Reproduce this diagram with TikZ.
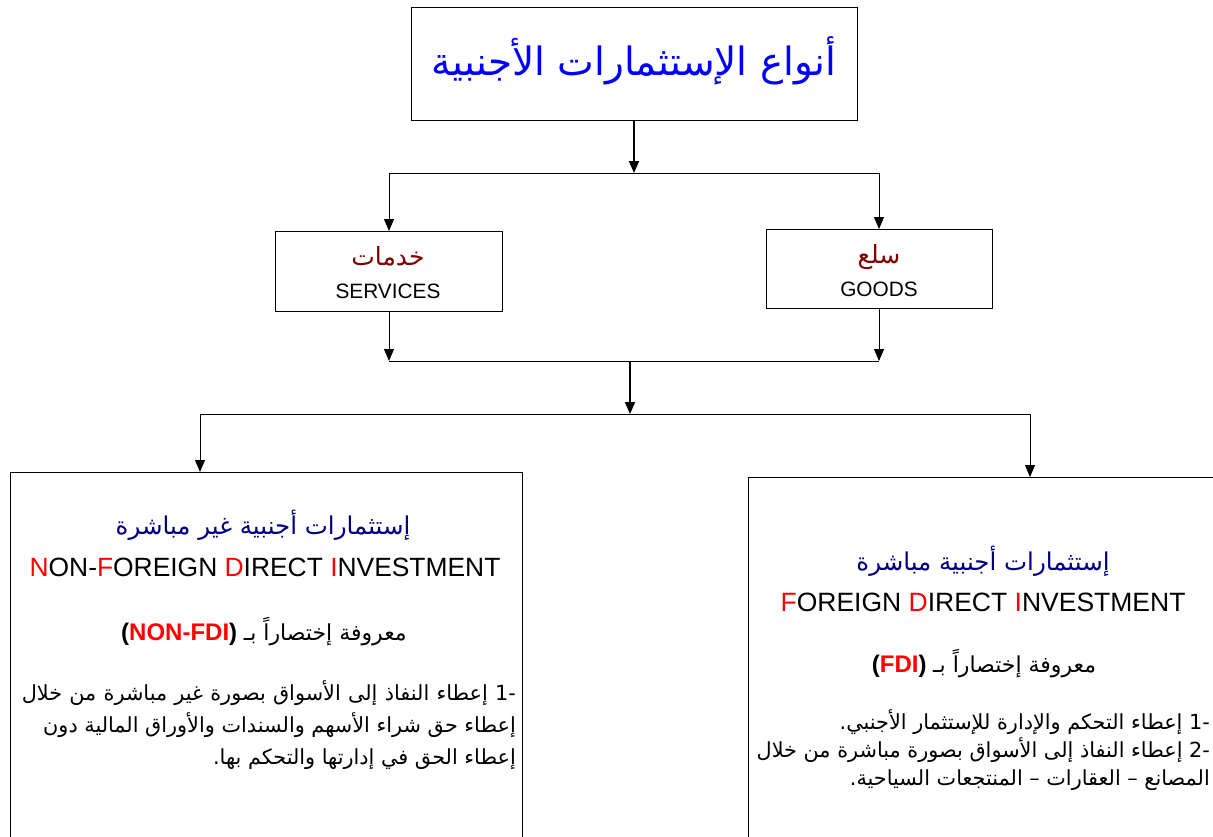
\documentclass[tikz,border=0pt]{standalone}
\usepackage{fontspec}
\setmainfont{Liberation Sans}
\newfontfamily\arfont[Script=Arabic]{DejaVu Sans}
\TeXXeTstate=1
\usetikzlibrary{arrows.meta}
\definecolor{navyc}{RGB}{0,0,128}
\definecolor{dredc}{RGB}{128,0,0}
\definecolor{redc}{RGB}{255,0,0}
\definecolor{bluec}{RGB}{0,0,255}
\newcommand{\fs}[1]{\fontsize{#1}{#1}\selectfont}
\begin{document}
\begin{tikzpicture}[x=1pt,y=-1pt,
  box/.style={draw, line width=1pt, inner sep=0pt, anchor=north west},
  conn/.style={line width=1pt},
  arr/.style={line width=1pt, -{Triangle[width=10pt,length=12pt]}},
  tarr/.style={line width=2pt, -{Triangle[width=10pt,length=12pt]}},
  ar/.style={font=\arfont\fs{#1}, inner sep=0pt, anchor=base},
  en/.style={font=\fs{#1}, inner sep=0pt, anchor=base}]
\useasboundingbox (0,0) rectangle (1213,836);
\clip (0,0) rectangle (1213,836);
% boxes
\node[box, minimum width=446pt, minimum height=113pt] (top) at (411,7) {};
\node[box, minimum width=227pt, minimum height=80pt] (serv) at (275,231) {};
\node[box, minimum width=226pt, minimum height=79pt] (goods) at (766,229) {};
\node[box, minimum width=512pt, minimum height=400pt] (left) at (10,472) {};
\node[box, minimum width=480pt, minimum height=400pt] (right) at (748,477) {};
% junctions
\coordinate (j1) at (634,173);
\coordinate (j1l) at (389,173);
\coordinate (j1r) at (879,173);
\coordinate (j2) at (630,361);
\coordinate (j2l) at (389,361);
\coordinate (j2r) at (879,361);
\coordinate (j3) at (630,414);
\coordinate (j3l) at (200,414);
\coordinate (j3r) at (1030,414);
% connectors
\draw[tarr] (top.south -| j1) -- (j1);
\draw[conn] (j1l) -- (j1r);
\draw[arr] (j1l) -- (j1l |- serv.north);
\draw[arr] (j1r) -- (j1r |- goods.north);
\draw[arr] (serv.south -| j2l) -- (j2l);
\draw[arr] (goods.south -| j2r) -- (j2r);
\draw[conn] (j2l) -- (j2r);
\draw[tarr] (j2) -- (j3);
\draw[conn] (j3l) -- (j3r);
\draw[arr] (j3l) -- (j3l |- left.north);
\draw[arr] (j3r) -- (j3r |- right.north);
% top title
\node[ar=39, text=bluec] (title) at (634,75) {\beginR أنواع الإستثمارات الأجنبية\endR};
% services / goods
\node[ar=25, text=dredc] (servar) at (388,265) {\beginR خدمات\endR};
\node[en=20.8] (serven) at (388,298) {SERVICES};
\node[ar=25, text=dredc] (goodsar) at (879,263) {\beginR سلع\endR};
\node[en=20.8] (goodsen) at (879,296) {GOODS};
% left box
\node[ar=24.5, text=navyc] (lt1) at (263,534) {\beginR إستثمارات أجنبية غير مباشرة\endR};
\node[en=26.4] (lt2) at (265,576) {\textcolor{redc}{N}ON-\textcolor{redc}{F}OREIGN \textcolor{redc}{D}IRECT \textcolor{redc}{I}NVESTMENT};
\node[en=24] (lt3) at (264,640) {\textbf{(\textcolor{redc}{NON-FDI})} {\arfont\fs{22}\beginR معروفة إختصاراً بـ\endR}};
\node[ar=20.8, anchor=base east] (lb1) at (516,700) {\hbox to 494pt{\beginR\hbox{-1} إعطاء النفاذ إلى الأسواق بصورة غير مباشرة من خلال\endR}};
\node[ar=20.8, anchor=base east] (lb2) at (516,732) {\beginR إعطاء حق شراء الأسهم والسندات والأوراق المالية دون\endR};
\node[ar=20.8, anchor=base east] (lb3) at (516,764) {\beginR إعطاء الحق في إدارتها والتحكم بها\kern0pt.\endR};
% right box
\node[ar=24.5, text=navyc] (rt1) at (983,570) {\beginR إستثمارات أجنبية مباشرة\endR};
\node[en=26.5] (rt2) at (983,611) {\textcolor{redc}{F}OREIGN \textcolor{redc}{D}IRECT \textcolor{redc}{I}NVESTMENT};
\node[en=24] (rt3) at (984,672) {\textbf{(\textcolor{redc}{FDI})} {\arfont\fs{22}\beginR معروفة إختصاراً بـ\endR}};
\node[ar=20.8, anchor=base east] (rb1) at (1210,729) {\beginR\hbox{-1} إعطاء التحكم والإدارة للإستثمار الأجنبي\kern0pt.\endR};
\node[ar=20.8, anchor=base east] (rb2) at (1210,757) {\beginR\hbox{-2} إعطاء النفاذ إلى الأسواق بصورة مباشرة من خلال\endR};
\node[ar=20.8, anchor=base east] (rb3) at (1210,785) {\beginR المصانع – العقارات – المنتجعات السياحية\kern0pt.\endR};
\end{tikzpicture}
\end{document}
